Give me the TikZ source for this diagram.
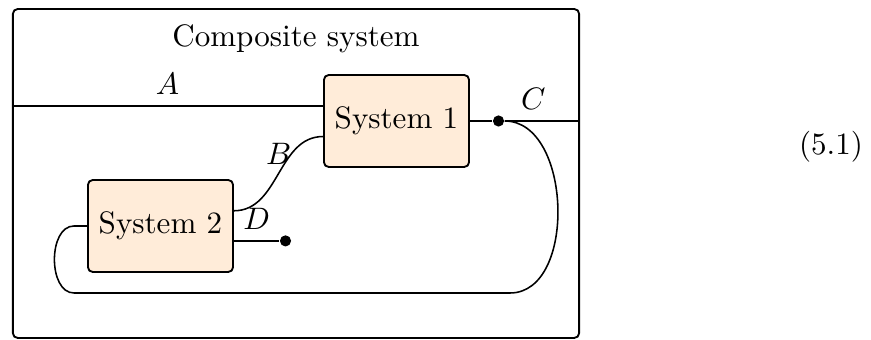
\documentclass[tikz,border=0pt]{standalone}
\usepackage{amsmath}
\usepackage{tikz}
\usetikzlibrary{positioning}
\tikzset{
        block/.style={draw, semithick, rounded corners=1.5pt, fill=orange!15, minimum width=46.7pt, minimum height=29.6pt}, % sets properties of each subsystem
        frame/.style={draw, semithick, rounded corners=1.5pt, minimum width=182.3pt, minimum height=105.9pt}, % box round the whole system
        dot/.style={circle, fill, inner sep=0pt, minimum size=3.6pt}, % open end of a wire
        wire/.style={line width=0.5pt}, % connections between the blocks
    }

\begin{document}
\begin{tikzpicture}[x=0.322pt, y=-0.322pt]
    \useasboundingbox (0,0) rectangle (871,340);
    \node[frame] (comp) at (296,173.5) {};
    \node[below=1.9pt of comp.north] (title) {Composite system};
    \node[block] (s1) at (396.5,121) {System 1};
    \node[block] (s2) at (160.5,226) {System 2};
    \node[dot, right=7.2pt of s1.east] (c) {};
    \coordinate (s1a) at ([yshift=4.9pt]s1.west);
    \coordinate (s1b) at ([yshift=-5pt]s1.west);
    \coordinate (s2b) at ([yshift=4.9pt]s2.east);
    \coordinate (s2d) at ([yshift=-4.8pt]s2.east);
    \node[dot, right=14.6pt of s2d] (d) {};
    \coordinate (s2in) at ([xshift=-4.2pt]s2.west);
    \coordinate (lr) at (510,293);
    \coordinate (ll) at (s2in |- lr);
    \node (eq) at (831,147) {(5.1)};
    \draw[wire]
      (comp.west |- s1a) edge node[above]{$A$} (s1a)
      (s2b) edge[out=0, in=180] node[pos=0.65, xshift=-3.2pt, yshift=1.2pt]{$B$} (s1b)
      (s1.east) edge (c)
      (c) edge node[above, pos=0.38]{$C$} (c -| comp.east)
      (s2d) edge node[above]{$D$} (d);
    \draw[wire] (c) to[out=0, in=0] (lr) -- (ll) to[out=180, in=180] (s2in) -- (s2.west);
\end{tikzpicture}
\end{document}
